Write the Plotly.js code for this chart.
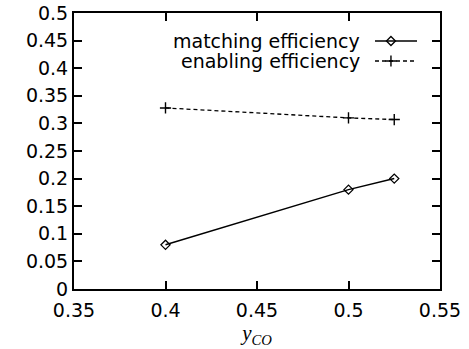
<!DOCTYPE html>
<html>
<head>
<meta charset="utf-8">
<script src="https://cdn.plot.ly/plotly-3.0.1.min.js"></script>
<style>html,body{margin:0;padding:0;background:#fff;}#chart{width:469px;height:349px;}</style>
</head>
<body>
<div id="chart"></div>
<script>
const yCO = [0.4, 0.5, 0.525];
const matchingEfficiency = [0.08, 0.18, 0.2];
const enablingEfficiency = [0.328, 0.31, 0.307];
const seriesNames = ["matching efficiency", "enabling efficiency"];
const xTicks = [0.35, 0.4, 0.45, 0.5, 0.55];
const xTickLabels = ["0.35", "0.4", "0.45", "0.5", "0.55"];
const yTicks = [0, 0.05, 0.1, 0.15, 0.2, 0.25, 0.3, 0.35, 0.4, 0.45, 0.5];
const yTickLabels = ["0", "0.05", "0.1", "0.15", "0.2", "0.25", "0.3", "0.35", "0.4", "0.45", "0.5"];

// legend key geometry (overlay axes, 0..1)
const keyLineX = [0.8224, 0.9372];
const keyMarkX = [0.866];
const keyRowY = [0.8986, 0.826];
const keyTextX = 0.787;

const font = "DejaVu Sans, Liberation Sans, Arial, sans-serif";
const fs = 19;

const diamond = {symbol: "diamond-open", size: 7, color: "#000", line: {width: 1.3, color: "#000"}};
const cross = {symbol: "cross-thin", size: 8, color: "#000", line: {width: 1.4, color: "#000"}};

const traces = [
  {x: yCO, y: matchingEfficiency, mode: "lines+markers", type: "scatter",
   line: {color: "#000", width: 1.5}, marker: diamond, showlegend: false, hoverinfo: "skip"},
  {x: yCO, y: enablingEfficiency, mode: "lines+markers", type: "scatter",
   line: {color: "#000", width: 1.3, dash: "4px,3px"}, marker: cross, showlegend: false, hoverinfo: "skip"},
  {x: keyLineX, y: [keyRowY[0], keyRowY[0]], xaxis: "x2", yaxis: "y2", mode: "lines",
   line: {color: "#000", width: 1.5}, showlegend: false, hoverinfo: "skip"},
  {x: keyMarkX, y: [keyRowY[0]], xaxis: "x2", yaxis: "y2", mode: "markers",
   marker: diamond, showlegend: false, hoverinfo: "skip"},
  {x: keyLineX, y: [keyRowY[1], keyRowY[1]], xaxis: "x2", yaxis: "y2", mode: "lines",
   line: {color: "#000", width: 1.3, dash: "4px,3px"}, showlegend: false, hoverinfo: "skip"},
  {x: keyMarkX, y: [keyRowY[1]], xaxis: "x2", yaxis: "y2", mode: "markers",
   marker: cross, showlegend: false, hoverinfo: "skip"}
];

const axisCommon = {
  showline: true, linecolor: "#000", linewidth: 2, mirror: "ticks",
  ticks: "inside", ticklen: 8, tickwidth: 2, tickcolor: "#000",
  showgrid: false, zeroline: false,
  tickfont: {family: font, size: fs, color: "#000"}
};

const layout = {
  width: 469, height: 349,
  margin: {l: 74, r: 29, t: 13, b: 60},
  paper_bgcolor: "#fff", plot_bgcolor: "#fff",
  showlegend: false,
  xaxis: Object.assign({}, axisCommon, {
    range: [0.35, 0.55], tickmode: "array", tickvals: xTicks, ticktext: xTickLabels,
    ticklabelstandoff: 3,
    title: {text: "<i>y</i><sub><i>CO</i></sub>", font: {family: "Liberation Serif, DejaVu Serif, serif", size: 21, color: "#000"}, standoff: 6}
  }),
  yaxis: Object.assign({}, axisCommon, {
    range: [0, 0.5], tickmode: "array", tickvals: yTicks, ticktext: yTickLabels
  }),
  xaxis2: {overlaying: "x", range: [0, 1], visible: false, fixedrange: true},
  yaxis2: {overlaying: "y", range: [0, 1], visible: false, fixedrange: true},
  annotations: [
    {xref: "paper", yref: "paper", x: keyTextX, y: keyRowY[0], xanchor: "right", yanchor: "middle",
     text: seriesNames[0], showarrow: false, font: {family: font, size: fs, color: "#000"}},
    {xref: "paper", yref: "paper", x: keyTextX, y: keyRowY[1], xanchor: "right", yanchor: "middle",
     text: seriesNames[1], showarrow: false, font: {family: font, size: fs, color: "#000"}}
  ]
};

Plotly.newPlot("chart", traces, layout, {staticPlot: true, displayModeBar: false});
</script>
</body>
</html>
